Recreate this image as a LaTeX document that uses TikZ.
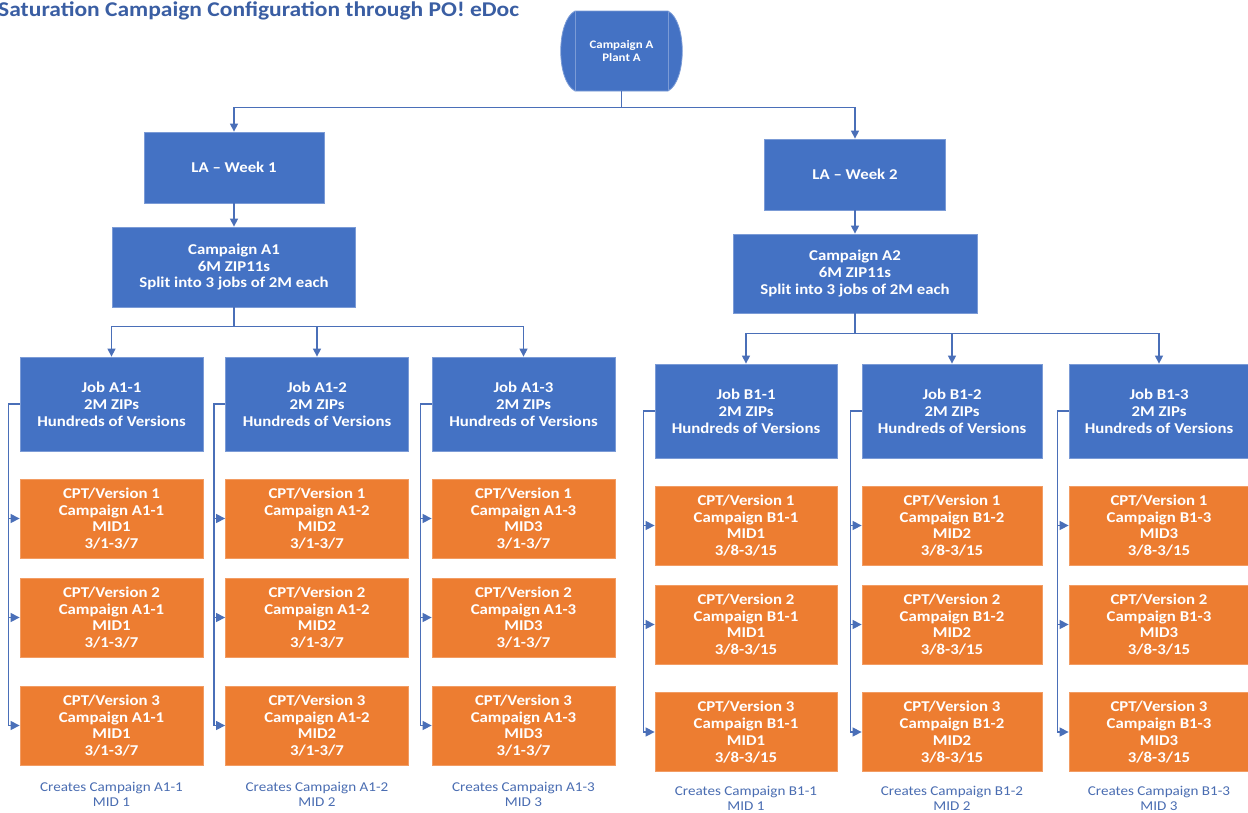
\documentclass[tikz,border=0pt]{standalone}
\usepackage{fontspec}
\setmainfont{Carlito}[FakeStretch=1.12]
\usetikzlibrary{arrows.meta}
\definecolor{bfill}{HTML}{4472C4}
\definecolor{bedge}{HTML}{7B9BD6}
\definecolor{ofill}{HTML}{ED7D31}
\definecolor{oedge}{HTML}{F29C63}
\definecolor{lcol}{HTML}{4A6FB8}
\definecolor{lblcol}{HTML}{4A6DB2}
\definecolor{titlecol}{HTML}{3A5EA3}
\begin{document}
\begin{tikzpicture}[x=1pt,y=-1pt,
  box/.style={rectangle, inner sep=0pt, text=white, align=center,
    font=\bfseries\fontsize{15}{16.8}\selectfont, line width=0.8pt},
  bluebox/.style={box, fill=bfill, draw=bedge},
  orbox/.style={box, fill=ofill, draw=oedge},
  arr/.style={draw=lcol, line width=1.3pt, -{Triangle[length=8pt,width=8pt]}},
  sidearr/.style={draw=lcol, line width=1.3pt, -{Triangle[length=9pt,width=9pt]}},
  lbl/.style={text=lblcol, align=center, inner sep=0pt, font=\fontsize{13.5}{15}\selectfont},
  titlestyle/.style={text=titlecol, inner sep=0pt, font=\bfseries\fontsize{21}{24}\selectfont}]
\useasboundingbox (0,0) rectangle (1248,812);
\fill[white] (0,0) rectangle (1248,812);

% title
\node[titlestyle, anchor=base west] (title) at (-2,16.5) {Saturation Campaign Configuration through PO! eDoc};

% top node
\fill[bfill, draw=bedge, line width=0.8pt] (575,11) -- (668,11) .. controls (687,21) and (687,81) .. (668,91) -- (575,91) .. controls (556,81) and (556,21) .. (575,11) -- cycle;
\draw[bedge, line width=0.8pt] (575,11) -- (575,91) (668,11) -- (668,91);
\node[box, draw=none, minimum width=93pt, minimum height=80pt, font=\bfseries\fontsize{11.5}{13.5}\selectfont] (top) at (621.5,51) {Campaign A\\Plant A};

% week boxes
\node[bluebox, minimum width=180pt, minimum height=71pt] (la1) at (234,167.5) {LA -- Week 1};
\node[bluebox, minimum width=181pt, minimum height=71pt] (la2) at (855,174.5) {LA -- Week 2};

% campaign boxes
\node[bluebox, minimum width=243pt, minimum height=80pt] (ca1) at (234,267) {Campaign A1\\6M ZIP11s\\Split into 3 jobs of 2M each};
\node[bluebox, minimum width=244pt, minimum height=79pt] (ca2) at (855,273.5) {Campaign A2\\6M ZIP11s\\Split into 3 jobs of 2M each};

\draw[arr] (top.south) -- ++(0,16) -| (la1.north);
\draw[arr] (top.south) -- ++(0,16) -| (la2.north);
\draw[arr] (la1) -- (ca1);
\draw[arr] (la2) -- (ca2);

% A side
\foreach \k/\cx in {1/111.5, 2/317, 3/523.5}{
  \node[bluebox, minimum width=183pt, minimum height=94pt] (ja\k) at (\cx,404) {Job A1-\k\\2M ZIPs\\Hundreds of Versions};
  \draw[arr] (ca1.south) -- ++(0,19) -| (ja\k.north);
  \foreach \r/\cy in {1/518.5, 2/617.5, 3/725.5}{
    \node[orbox, minimum width=183pt, minimum height=79pt] (oa\k\r) at (\cx,\cy) {CPT/Version \r\\Campaign A1-\k\\MID\k\\3/1-3/7};
    \draw[sidearr] (ja\k.west) -- ++(-11,0) |- (oa\k\r.west);
  }
  \node[lbl] (la\k lbl) at (\cx,794) {Creates Campaign A1-\k\\MID \k};
}

% B side
\foreach \k/\cx/\w in {1/746/182, 2/952/180, 3/1159/180}{
  \node[bluebox, minimum width=\w pt, minimum height=94pt] (jb\k) at (\cx,411) {Job B1-\k\\2M ZIPs\\Hundreds of Versions};
  \draw[arr] (ca2.south) -- ++(0,20) -| (jb\k.north);
  \foreach \r/\cy in {1/525.5, 2/624.5, 3/732}{
    \node[orbox, minimum width=\w pt, minimum height=79pt] (ob\k\r) at (\cx,\cy) {CPT/Version \r\\Campaign B1-\k\\MID\k\\3/8-3/15};
    \draw[sidearr] (jb\k.west) -- ++(-11,0) |- (ob\k\r.west);
  }
  \node[lbl] (lb\k lbl) at (\cx,798.5) {Creates Campaign B1-\k\\MID \k};
}
\end{tikzpicture}
\end{document}
